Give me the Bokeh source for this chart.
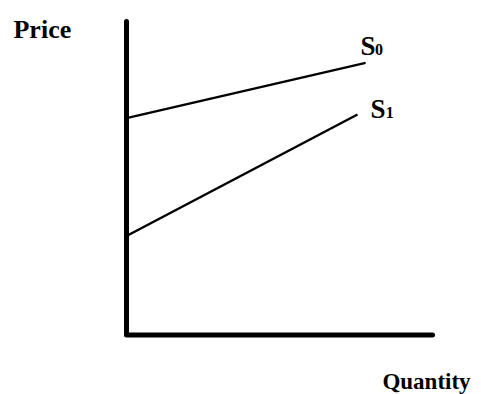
from bokeh.plotting import figure
from bokeh.models import Range1d
from bokeh.core.properties import value
from bokeh.embed import file_html
from bokeh.resources import INLINE

# Supply curves (quantity, price) in arbitrary units
s0_quantity = [0.0, 7.97]
s0_price = [7.23, 9.07]
s1_quantity = [0.0, 7.70]
s1_price = [3.30, 7.35]

# Axes extents
price_axis_top = 10.45
quantity_axis_right = 10.2

# Labels
axis_labels = ["Price", "Quantity"]
curve_names = ["S", "S"]
curve_subscripts = ["0", "1"]

FONT = value("Liberation Serif")

p = figure(width=481, height=394, output_backend="svg", toolbar_location=None,
           x_range=Range1d(-4.2, 11.833), y_range=Range1d(-1.983, 11.15),
           min_border=0)
p.axis.visible = False
p.grid.visible = False
p.outline_line_color = None
p.background_fill_color = "white"
p.border_fill_color = "white"

# axes drawn as thick lines
p.line([0, 0, quantity_axis_right], [price_axis_top, 0, 0], line_width=5,
       line_color="black", line_join="round", line_cap="round")

# supply curves
p.line(s0_quantity, s0_price, line_width=2.5, line_color="black")
p.line(s1_quantity, s1_price, line_width=2.5, line_color="black")

# axis labels
p.text(x=[-3.767], y=[10.2], text=[axis_labels[0]], text_font=FONT,
       text_font_style="bold", text_font_size="26px", text_baseline="alphabetic",
       text_color="black")
p.text(x=[8.53], y=[-1.55], text=[axis_labels[1]], text_font=FONT,
       text_font_style="bold", text_font_size="23px", text_baseline="alphabetic",
       text_color="black")

# curve labels
p.text(x=[7.8, 8.13], y=[9.62, 7.55], text=curve_names, text_font=FONT,
       text_font_style="bold", text_font_size="27px", text_baseline="alphabetic",
       text_color="black")
p.text(x=[8.28, 8.64], y=[9.52, 7.42], text=curve_subscripts, text_font=FONT,
       text_font_style="bold", text_font_size="16px", text_baseline="alphabetic",
       text_color="black")

open("out.html", "w").write(file_html(p, INLINE))
